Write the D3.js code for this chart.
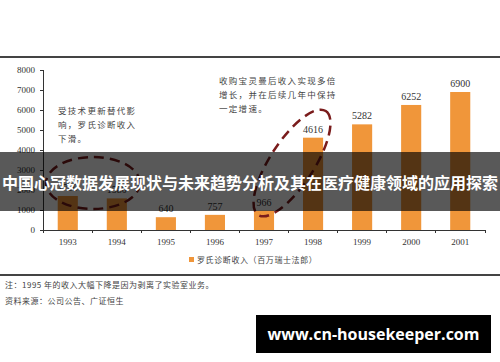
<!DOCTYPE html>
<html lang="zh">
<head>
<meta charset="UTF-8">
<title>罗氏诊断收入</title>
<script src="https://cdn.jsdelivr.net/npm/d3@7"></script>
<style>
    body { margin: 0; background: #fff; }
    svg { display: block; }
    .axis path, .axis line { fill: none; stroke: #333; shape-rendering: crispEdges; }
    .axis text { font-family: "Liberation Serif", serif; font-size: 9px; fill: #333; }
    .note { font-family: "Noto Sans CJK SC", sans-serif; font-size: 8px; fill: #444; }
</style>
</head>
<body>
<script>
// 数据
var years = ["1993", "1994", "1995", "1996", "1997", "1998", "1999", "2000", "2001"];
var revenue = [1700, 1580, 640, 757, 966, 4616, 5282, 6252, 6900];
var yTicks = [0, 1000, 2000, 3000, 4000, 5000, 6000, 7000, 8000];
var legendLabel = "罗氏诊断收入（百万瑞士法郎）";
var note1 = ["受技术更新替代影", "响，罗氏诊断收入", "下滑。"];
var note2 = ["收购宝灵曼后收入实现多倍", "增长，并在后续几年中保持", "一定增速。"];

var width = 500, height = 362;
var ORANGE = "#f0963a";
var DASH = "#7a1c1c";

var svg = d3.select("body").append("svg")
    .attr("width", width).attr("height", height);

// 顶部、底部分隔线
svg.append("line").attr("x1", 0).attr("x2", width).attr("y1", 57).attr("y2", 57)
    .attr("stroke", "#444").attr("stroke-width", 2);
svg.append("line").attr("x1", 0).attr("x2", width).attr("y1", 275).attr("y2", 275)
    .attr("stroke", "#444").attr("stroke-width", 2);

var x = d3.scaleBand().domain(years).range([43, 485]).paddingInner(0.59).paddingOuter(0.3);
var y = d3.scaleLinear().domain([0, 8000]).range([230, 70]);

// 坐标轴
svg.append("g").attr("class", "axis")
    .attr("transform", "translate(43,0)")
    .call(d3.axisLeft(y).tickValues(yTicks).tickSize(3).tickPadding(5).tickFormat(d3.format("d")));

var xAxis = svg.append("g").attr("class", "axis")
    .attr("transform", "translate(0,230)")
    .call(d3.axisBottom(x).tickSize(0).tickPadding(9));
// 类目分界刻度
var bounds = d3.range(years.length + 1).map(function(i){ return 43 + i * (442 / years.length); });
xAxis.selectAll(".sep").data(bounds).enter().append("line")
    .attr("class", "sep")
    .attr("x1", function(d){ return d; }).attr("x2", function(d){ return d; })
    .attr("y1", 0).attr("y2", 3);

// 柱子
svg.append("g").selectAll("rect").data(revenue).enter().append("rect")
    .attr("x", function(d, i){ return x(years[i]); })
    .attr("y", function(d){ return y(d); })
    .attr("width", x.bandwidth())
    .attr("height", function(d){ return y(0) - y(d); })
    .attr("fill", ORANGE);

svg.append("g").selectAll("text").data(revenue).enter().append("text")
    .attr("x", function(d, i){ return x(years[i]) + x.bandwidth() / 2; })
    .attr("y", function(d){ return y(d) - 5; })
    .attr("text-anchor", "middle")
    .attr("font-family", "Liberation Serif, serif")
    .attr("font-size", 10).attr("fill", "#333")
    .text(function(d){ return d; });

// 注释文字
function notes(lines, x0, y0, dy){
    svg.append("g").selectAll("text").data(lines).enter().append("text")
        .attr("x", x0).attr("y", function(d, i){ return y0 + i * dy; })
        .attr("font-family", "Noto Sans CJK SC, sans-serif")
        .attr("font-size", 8.5).attr("letter-spacing", 1.3)
        .attr("fill", "#444")
        .text(function(d){ return d; });
}
notes(note1, 58, 114, 14);
notes(note2, 219, 84, 14);

// 虚线椭圆
svg.append("ellipse").attr("cx", 93).attr("cy", 183).attr("rx", 47).attr("ry", 26)
    .attr("fill", "none").attr("stroke", DASH).attr("stroke-width", 2.5)
    .attr("stroke-dasharray", "10,6");
svg.append("ellipse").attr("cx", 0).attr("cy", 0).attr("rx", 62).attr("ry", 22)
    .attr("transform", "translate(292,163) rotate(-57)")
    .attr("fill", "none").attr("stroke", DASH).attr("stroke-width", 2.5)
    .attr("stroke-dasharray", "10,6");

// 图例
svg.append("rect").attr("x", 189).attr("y", 257).attr("width", 5).attr("height", 5).attr("fill", ORANGE);
svg.append("text").attr("class", "note").attr("x", 197).attr("y", 263)
    .attr("letter-spacing", 0.6).text(legendLabel);

// 脚注
svg.append("text").attr("class", "note").attr("x", 5).attr("y", 288)
    .attr("letter-spacing", 0.5).text("注：1995 年的收入大幅下降是因为剥离了实验室业务。");
svg.append("text").attr("class", "note").attr("x", 5).attr("y", 304)
    .attr("letter-spacing", 0.5).text("资料来源：公司公告、广证恒生");

// 标题横幅
svg.append("rect").attr("x", 0).attr("y", 152).attr("width", width).attr("height", 59)
    .attr("fill", "rgba(0,0,0,0.65)");
svg.append("text").attr("x", width / 2).attr("y", 189)
    .attr("text-anchor", "middle")
    .attr("font-family", "Noto Sans CJK SC, sans-serif")
    .attr("font-weight", "bold").attr("font-size", 16)
    .attr("fill", "#fff")
    .text("中国心冠数据发展现状与未来趋势分析及其在医疗健康领域的应用探索");

// 水印
svg.append("rect").attr("x", 256).attr("y", 315).attr("width", 235).attr("height", 38).attr("fill", "#000");
svg.append("text").attr("x", 373.5).attr("y", 340)
    .attr("text-anchor", "middle")
    .attr("font-family", "Open Sans, sans-serif")
    .attr("font-weight", "bold").attr("font-size", 16)
    .attr("fill", "#fff")
    .text("www.cn-housekeeper.com");
</script>
</body>
</html>
